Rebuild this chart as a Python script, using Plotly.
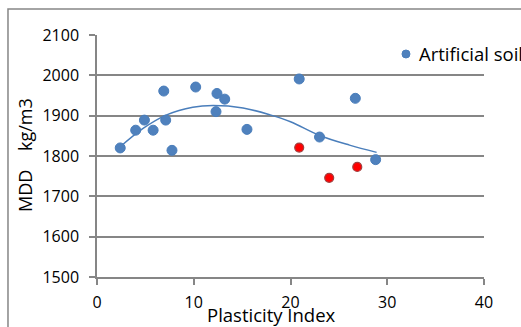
import plotly.graph_objects as go

# Blue series: Artificial soil
pi_blue = [2.4, 4.0, 4.9, 5.8, 6.9, 7.1, 7.75, 10.2, 12.3, 12.4, 13.2, 15.5, 20.9, 23.0, 26.7, 28.8]
mdd_blue = [1820, 1864, 1889, 1864, 1961, 1889, 1814, 1971, 1910, 1955, 1941, 1866, 1991, 1847, 1943, 1791]
# Red series
pi_red = [20.9, 24.0, 26.9]
mdd_red = [1821, 1746, 1773]
# Trendline
trend_x = [2.4, 4.8, 7.2, 9.9, 12.0, 15.1, 17.9, 20.0, 23.0, 26.1, 28.9]
trend_y = [1823, 1869, 1902, 1921, 1925, 1919, 1902, 1885, 1851, 1827, 1809]

x_ticks = [0, 10, 20, 30, 40]
y_ticks = [1500, 1600, 1700, 1800, 1900, 2000, 2100]
legend_label = "Artificial soil"
x_title = "Plasticity Index"
y_title = "MDD    kg/m3"

font = "'Open Sans', sans-serif"
blue = "#4F81BD"
fig = go.Figure()
fig.add_trace(go.Scatter(x=trend_x, y=trend_y, mode="lines",
                         line=dict(color="#4A7EBB", width=1.5, shape="spline", smoothing=1.0),
                         showlegend=False, hoverinfo="skip"))
fig.add_trace(go.Scatter(x=pi_blue, y=mdd_blue, mode="markers", name=legend_label, showlegend=False,
                         marker=dict(size=10, color=blue, line=dict(color="#4A7EBB", width=1))))
fig.add_trace(go.Scatter(x=pi_red, y=mdd_red, mode="markers", showlegend=False,
                         marker=dict(size=9, color="#FF0000", line=dict(color="#A04040", width=1.2))))

# legend (drawn manually so it can overflow the right edge like the reference)
lx, ly = 0.7984, 0.9215
rx, ry = 4 / 387, 4 / 242

fig.update_layout(
    width=521, height=327,
    margin=dict(l=97, r=37, t=35, b=50, autoexpand=False),
    paper_bgcolor="white", plot_bgcolor="white",
    font=dict(family=font, size=16, color="black"),
    showlegend=False,
    xaxis=dict(range=[0, 40], tickvals=x_ticks, showgrid=False, zeroline=False,
               showline=True, linecolor="#868686", linewidth=1.5,
               ticks="outside", ticklen=6, tickcolor="#868686", tickwidth=1.5,
               tickfont=dict(size=16), ticklabelstandoff=4),
    yaxis=dict(range=[1500, 2100], tickvals=y_ticks, showgrid=True, gridcolor="#868686", gridwidth=1.5,
               zeroline=False, showline=True, linecolor="#868686", linewidth=1.5,
               ticks="outside", ticklen=6, tickcolor="#868686", tickwidth=1.5,
               tickfont=dict(size=16), ticklabelstandoff=7),
    shapes=[
        dict(type="rect", xref="paper", yref="paper", x0=-0.23, x1=1.3, y0=-0.4, y1=1.107,
             line=dict(color="#868686", width=1.5), fillcolor="rgba(0,0,0,0)", layer="below"),
        dict(type="circle", xref="paper", yref="paper", x0=lx - rx, x1=lx + rx, y0=ly - ry, y1=ly + ry,
             line=dict(color="#4A7EBB", width=1), fillcolor=blue),
    ],
    annotations=[
        dict(text=legend_label, xref="paper", yref="paper", x=0.8269, y=ly,
             xanchor="left", yanchor="middle", showarrow=False, font=dict(size=18.5)),
        dict(text=x_title, xref="paper", yref="paper", x=0.45, y=-0.153,
             xanchor="center", yanchor="middle", showarrow=False, font=dict(size=18.5)),
        dict(text=y_title, xref="paper", yref="paper", x=-0.186, y=0.504, textangle=-90,
             xanchor="center", yanchor="middle", showarrow=False, font=dict(size=18)),
    ],
)
fig.write_html("out.html")
